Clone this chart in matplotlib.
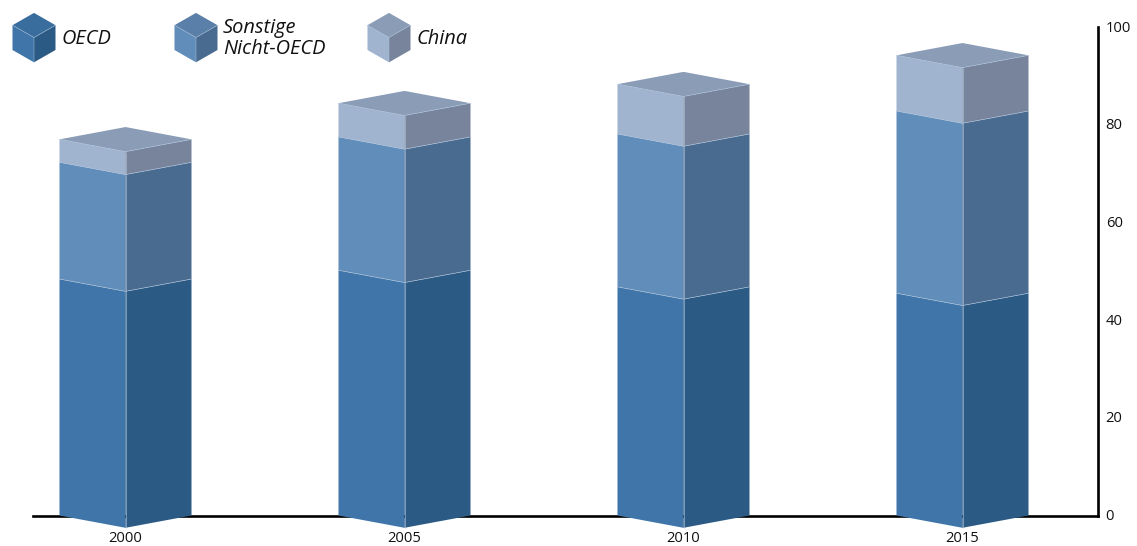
import matplotlib
matplotlib.use("Agg")
import matplotlib.pyplot as plt
from matplotlib.patches import Polygon
from matplotlib.transforms import ScaledTranslation

plt.rcParams['font.family'] = ['Open Sans', 'DejaVu Sans']

years = ['2000', '2005', '2010', '2015']
oecd = [48.4, 50.2, 46.8, 45.5]
other_non_oecd = [23.9, 27.3, 31.3, 37.3]
china = [4.7, 6.9, 10.2, 11.4]
y_ticks = [0, 20, 40, 60, 80, 100]

# left face, right face, top face of each stacked segment
OECD_COLORS = ('#3f75a8', '#2b5a84', '#386d9e')
OTHER_COLORS = ('#618dba', '#4a6b90', '#5a7fa8')
CHINA_COLORS = ('#a0b3cf', '#77849c', '#8a9cb6')
EDGE = '#a9c0d8'

W, H = 1137, 546
fig = plt.figure(figsize=(W / 100, H / 100), dpi=100)

# plot area: x axis runs from 33 to 1098 px, y from 515.5 up to 27 px
left, right, top, bottom = 33, 1098, 27, 515.5
ax = fig.add_axes([left / W, 1 - bottom / H, (right - left) / W, (bottom - top) / H])
spacing = 279
first = 125.5
ax.set_xlim((left - first) / spacing, (right - first) / spacing)
ax.set_ylim(0, 100)
half = 66 / spacing
depth = 12.3 / (bottom - top) * 100

for name in ('top', 'left'):
    ax.spines[name].set_visible(False)
for name in ('bottom', 'right'):
    ax.spines[name].set_linewidth(1.9)
    ax.spines[name].set_color('black')
    ax.spines[name].set_zorder(1)

ax.yaxis.tick_right()
ax.set_yticks(y_ticks)
ax.set_xticks(range(len(years)))
ax.set_xticklabels(years)
ax.tick_params(axis='both', length=0, labelsize=10.6, labelcolor='#111111')
ax.tick_params(axis='x', pad=11.5)
ax.tick_params(axis='y', pad=5.5)
nudge = ScaledTranslation(0, -1 / 100, fig.dpi_scale_trans)
for lab in ax.get_yticklabels():
    lab.set_verticalalignment('center')
    lab.set_transform(lab.get_transform() + nudge)
ax.patch.set_visible(False)


def add_face(pts, color, z):
    ax.add_patch(Polygon(pts, closed=True, facecolor=color, edgecolor='none',
                         clip_on=False, zorder=z))


def add_edge(xs, ys, z):
    ax.plot(xs, ys, color=EDGE, lw=0.45, clip_on=False, zorder=z, solid_capstyle='butt')


for i in range(len(years)):
    base = 0.0
    for values, (c_l, c_r, c_t) in ((oecd, OECD_COLORS),
                                    (other_non_oecd, OTHER_COLORS),
                                    (china, CHINA_COLORS)):
        upper = base + values[i]
        add_face([(i - half, base), (i, base - depth), (i, upper - depth), (i - half, upper)], c_l, 3)
        add_face([(i, base - depth), (i + half, base), (i + half, upper), (i, upper - depth)], c_r, 3)
        add_edge([i, i], [base - depth, upper - depth], 4)
        add_edge([i - half, i, i + half], [upper, upper - depth, upper], 5)
        base = upper
    add_face([(i - half, base), (i, base - depth), (i + half, base), (i, base + depth)], CHINA_COLORS[2], 3)

# legend keys and labels are laid out in pixel coordinates
overlay = fig.add_axes([0, 0, 1, 1])
overlay.set_xlim(0, W)
overlay.set_ylim(H, 0)
overlay.axis('off')


def legend_cube(cx, cy, colors):
    w, h, s = 21.5, 12.3, 24.8
    c_l, c_r, c_t = colors
    overlay.add_patch(Polygon([(cx - w, cy - h), (cx, cy), (cx, cy + s), (cx - w, cy - h + s)], facecolor=c_l))
    overlay.add_patch(Polygon([(cx, cy), (cx + w, cy - h), (cx + w, cy - h + s), (cx, cy + s)], facecolor=c_r))
    overlay.add_patch(Polygon([(cx - w, cy - h), (cx, cy - 2 * h), (cx + w, cy - h), (cx, cy)], facecolor=c_t))
    overlay.plot([cx - w, cx, cx + w], [cy - h, cy, cy - h], color=EDGE, lw=0.35)
    overlay.plot([cx, cx], [cy, cy + s], color=EDGE, lw=0.35)


legend_cube(34, 37.5, OECD_COLORS)
legend_cube(196, 37.5, OTHER_COLORS)
legend_cube(389, 37.5, CHINA_COLORS)

legend_font = dict(style='italic', fontsize=14.4, color='#111111', va='center', ha='left')
overlay.text(62, 38.5, 'OECD', **legend_font)
overlay.text(223, 28.5, 'Sonstige', **legend_font)
overlay.text(223, 49, 'Nicht-OECD', **legend_font)
overlay.text(417, 38.5, 'China', **legend_font)

fig.savefig('out.png', dpi=100)
